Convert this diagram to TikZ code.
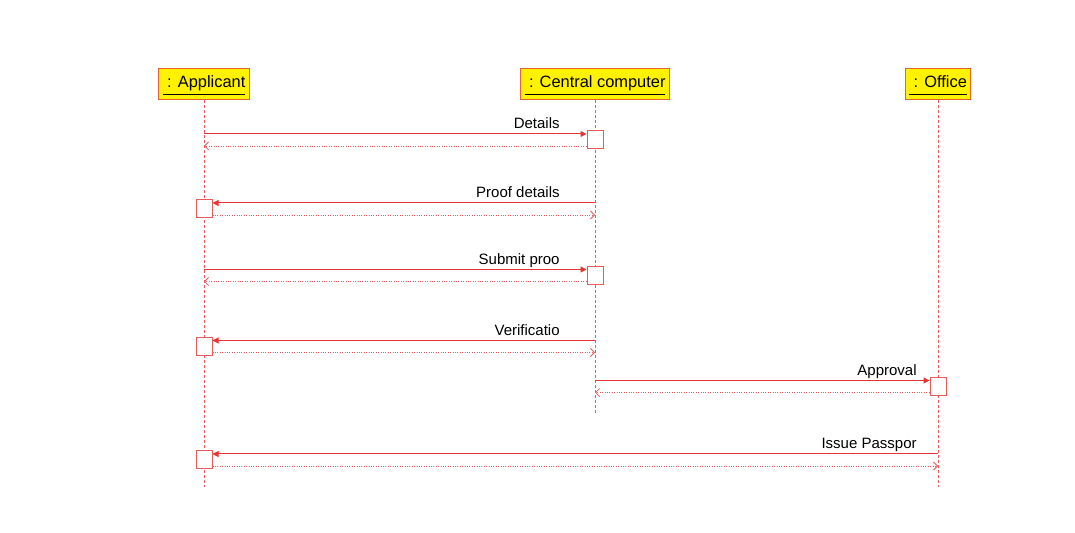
\documentclass[tikz,border=0pt]{standalone}
\usepackage{fontspec}
\setmainfont{Liberation Sans}
\usetikzlibrary{arrows.meta}
\definecolor{seqred}{RGB}{228,52,52}
\definecolor{lifered}{RGB}{230,92,92}
\definecolor{hdrline}{RGB}{228,100,40}
\newcommand{\objname}[1]{\underline{\vphantom{Ap}\ : #1}}
\tikzset{
  objbox/.style={draw=hdrline,fill=yellow,line width=0.6pt,minimum height=15pt,inner xsep=2pt,
    text height=6.5pt,text depth=2.5pt,font=\fontsize{8.2}{9}\selectfont},
  life/.style={lifered,line width=0.5pt,dash pattern=on 1.5pt off 1pt},
  act/.style={draw=lifered,fill=white,line width=0.5pt,minimum width=8pt,minimum height=9pt,inner sep=0pt},
  msg/.style={seqred,line width=0.5pt,-{Triangle[length=3pt,width=3pt]}},
  ret/.style={lifered,line width=0.4pt,dash pattern=on 0.5pt off 0.7pt,-{Straight Barb[length=2pt,width=4pt,line width=0.4pt]}},
  lbl/.style={font=\fontsize{7.5}{9}\selectfont,inner sep=0pt,anchor=base east}
}
\begin{document}
\begin{tikzpicture}[x=0.5pt,y=-0.5pt]
		\useasboundingbox (0,0) rectangle (1075,533);
		% objects
		\node[objbox] (app) at (204,84) {\objname{Applicant}};
		\node[objbox] (cc) at (595,84) {\objname{Central computer}};
		\node[objbox] (off) at (938,84) {\objname{Office}};
		% lifelines
		\draw[life] (app.south) -- (app.south |- 0,487);
		\draw[life] (cc.south) -- (cc.south |- 0,413);
		\draw[life] (off.south) -- (off.south |- 0,487);
		% activations
		\node[act] (a1) at (cc.south |- 0,140) {};
		\node[act] (a2) at (app.south |- 0,209) {};
		\node[act] (a3) at (cc.south |- 0,275.5) {};
		\node[act] (a4) at (app.south |- 0,346.5) {};
		\node[act] (a5) at (off.south |- 0,386.5) {};
		\node[act] (a6) at (app.south |- 0,460) {};
		% Details
		\draw[msg] ([yshift=3pt]app.south |- a1.west) -- ([yshift=3pt]a1.west);
		\draw[ret] ([yshift=-3pt]a1.west) -- ([yshift=-3pt]app.south |- a1.west);
		\node[lbl] (l1) at ([xshift=-17.5pt,yshift=5.5pt]cc.south |- a1.west) {Details};
		% Proof details
		\draw[msg] ([yshift=3pt]cc.south |- a2.east) -- ([yshift=3pt]a2.east);
		\draw[ret] ([yshift=-3pt]a2.east) -- ([yshift=-3pt]cc.south |- a2.east);
		\node[lbl] (l2) at ([xshift=-17.5pt,yshift=5.5pt]cc.south |- a2.east) {Proof details};
		% Submit proof
		\draw[msg] ([yshift=3pt]app.south |- a3.west) -- ([yshift=3pt]a3.west);
		\draw[ret] ([yshift=-3pt]a3.west) -- ([yshift=-3pt]app.south |- a3.west);
		\node[lbl] (l3) at ([xshift=-17.5pt,yshift=5.5pt]cc.south |- a3.west) {Submit proo};
		% Verification
		\draw[msg] ([yshift=3pt]cc.south |- a4.east) -- ([yshift=3pt]a4.east);
		\draw[ret] ([yshift=-3pt]a4.east) -- ([yshift=-3pt]cc.south |- a4.east);
		\node[lbl] (l4) at ([xshift=-17.5pt,yshift=5.5pt]cc.south |- a4.east) {Verificatio};
		% Approval
		\draw[msg] ([yshift=3pt]cc.south |- a5.west) -- ([yshift=3pt]a5.west);
		\draw[ret] ([yshift=-3pt]a5.west) -- ([yshift=-3pt]cc.south |- a5.west);
		\node[lbl] (l5) at ([xshift=-10.5pt,yshift=5.5pt]off.south |- a5.west) {Approval};
		% Issue Passport
		\draw[msg] ([yshift=3pt]off.south |- a6.east) -- ([yshift=3pt]a6.east);
		\draw[ret] ([yshift=-3pt]a6.east) -- ([yshift=-3pt]off.south |- a6.east);
		\node[lbl] (l6) at ([xshift=-10.5pt,yshift=5.5pt]off.south |- a6.east) {Issue Passpor};
\end{tikzpicture}
\end{document}
